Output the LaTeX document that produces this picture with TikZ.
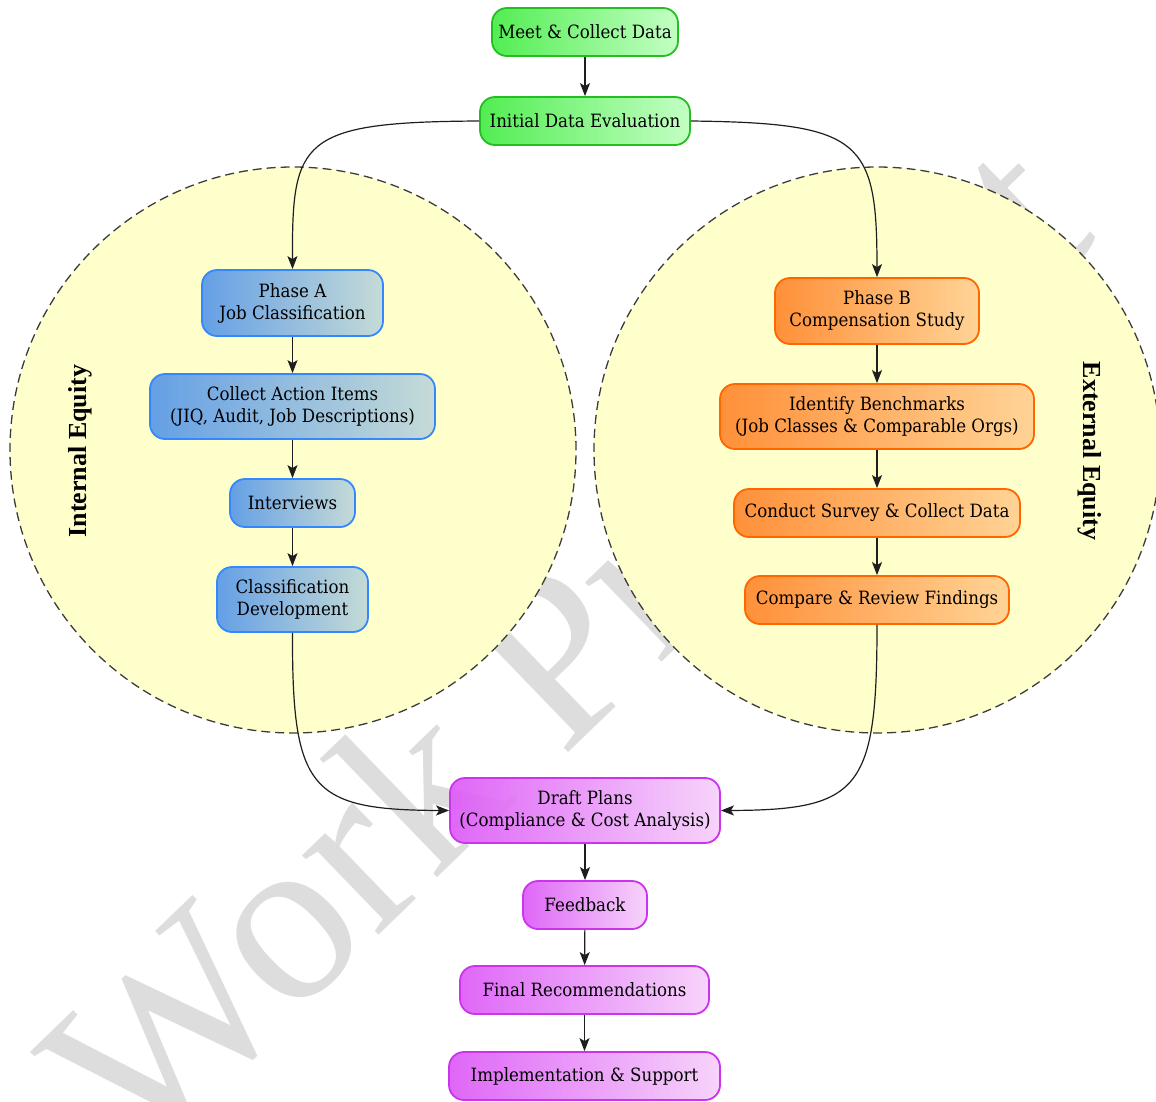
\documentclass[tikz,border=0pt]{standalone}
\usepackage{fontspec}
\setmainfont{Liberation Serif}
\newfontfamily\nodefont{DejaVu Serif}[FakeStretch=0.91]
\usetikzlibrary{arrows.meta}

\definecolor{wmgray}{RGB}{221,221,221}
\definecolor{zonefill}{RGB}{255,255,204}
\definecolor{zoneline}{RGB}{60,60,60}
\definecolor{edgecol}{RGB}{30,30,30}
\definecolor{greenB}{RGB}{34,190,34}
\definecolor{greenL}{RGB}{68,236,68}
\definecolor{greenR}{RGB}{190,255,190}
\definecolor{blueB}{RGB}{51,136,255}
\definecolor{blueL}{RGB}{88,152,232}
\definecolor{blueR}{RGB}{192,216,216}
\definecolor{orangeB}{RGB}{255,102,0}
\definecolor{orangeL}{RGB}{255,135,45}
\definecolor{orangeR}{RGB}{255,208,145}
\definecolor{magB}{RGB}{204,51,238}
\definecolor{magL}{RGB}{220,90,246}
\definecolor{magR}{RGB}{246,208,251}

\begin{document}
\begin{tikzpicture}[x=1pt,y=-1pt,
  box/.style={draw, rounded corners=15pt, line width=1.8pt, align=center,
    font=\nodefont\fontsize{18.3}{22}\selectfont, inner sep=0pt,
    fill opacity=0.92, text opacity=1, text=black},
  gbox/.style={box, draw=greenB, left color=greenL, right color=greenR},
  bbox/.style={box, draw=blueB, left color=blueL, right color=blueR},
  obox/.style={box, draw=orangeB, left color=orangeL, right color=orangeR},
  mbox/.style={box, draw=magB, left color=magL, right color=magR},
  zone/.style={circle, draw=zoneline, fill=zonefill, dash pattern=on 9pt off 5pt,
    line width=1.3pt, inner sep=0pt, minimum size=566pt},
  zonelabel/.style={font=\bfseries\fontsize{26}{30}\selectfont, inner sep=0pt},
  arr/.style={-{Stealth[length=13pt,width=10pt,inset=3pt]}, line width=1.2pt, draw=edgecol}
]
\useasboundingbox (0,0) rectangle (1156,1101);
\clip (0,0) rectangle (1156,1101);

% watermark behind everything
\node[rotate=44, text=wmgray, inner sep=0pt,
  font=\fontsize{240}{240}\selectfont] (wm) at (563,644) {Work Product};

% equity zones
\node[zone] (inner) at (293,450) {};
\node[zone] (outer) at (877,450) {};
\node[zonelabel, rotate=90] (inlab) at (80,451) {Internal Equity};
\node[zonelabel, rotate=-90] (outlab) at (1090,451) {External Equity};

% top steps
\node[gbox, minimum width=186, minimum height=48] (meet) at (585,32) {Meet \& Collect Data};
\node[gbox, minimum width=210, minimum height=48] (init) at (585,121) {Initial Data Evaluation};

% phase A
\node[bbox, minimum width=181, minimum height=66] (pa) at (292.5,303) {Phase A\\Job Classification};
\node[bbox, minimum width=285, minimum height=65] (cai) at (292.5,406.5) {Collect Action Items\\(JIQ, Audit, Job Descriptions)};
\node[bbox, minimum width=125, minimum height=48] (intv) at (292.5,503) {Interviews};
\node[bbox, minimum width=151, minimum height=65] (cdev) at (292.5,599.5) {Classification\\Development};

% phase B
\node[obox, minimum width=204, minimum height=66] (pb) at (877,311) {Phase B\\Compensation Study};
\node[obox, minimum width=314, minimum height=65] (ib) at (877,416.5) {Identify Benchmarks\\(Job Classes \& Comparable Orgs)};
\node[obox, minimum width=286, minimum height=48] (cs) at (877,513) {Conduct Survey \& Collect Data};
\node[obox, minimum width=264, minimum height=48] (cr) at (877,600) {Compare \& Review Findings};

% closing steps
\node[mbox, minimum width=270, minimum height=65] (dp) at (585,810.5) {Draft Plans\\(Compliance \& Cost Analysis)};
\node[mbox, minimum width=124, minimum height=48] (fb) at (585,905) {Feedback};
\node[mbox, minimum width=249, minimum height=48] (fr) at (584.5,990) {Final Recommendations};
\node[mbox, minimum width=271, minimum height=48] (is) at (584.5,1076) {Implementation \& Support};

% connectors
\draw[arr] (meet) -- (init);
\draw[arr] (init.west) .. controls (300,122) and (292,140) .. (pa.north);
\draw[arr] (init.east) .. controls (862,123) and (877,140) .. (pb.north);
\draw[arr] (pa) -- (cai);
\draw[arr] (cai) -- (intv);
\draw[arr] (intv) -- (cdev);
\draw[arr] (pb) -- (ib);
\draw[arr] (ib) -- (cs);
\draw[arr] (cs) -- (cr);
\draw[arr] (cdev.south) .. controls (292,790) and (310,810) .. (dp.west);
\draw[arr] (cr.south) .. controls (877,790) and (860,810) .. (dp.east);
\draw[arr] (dp) -- (fb);
\draw[arr] (fb) -- (fr);
\draw[arr] (fr) -- (is);
\end{tikzpicture}
\end{document}
